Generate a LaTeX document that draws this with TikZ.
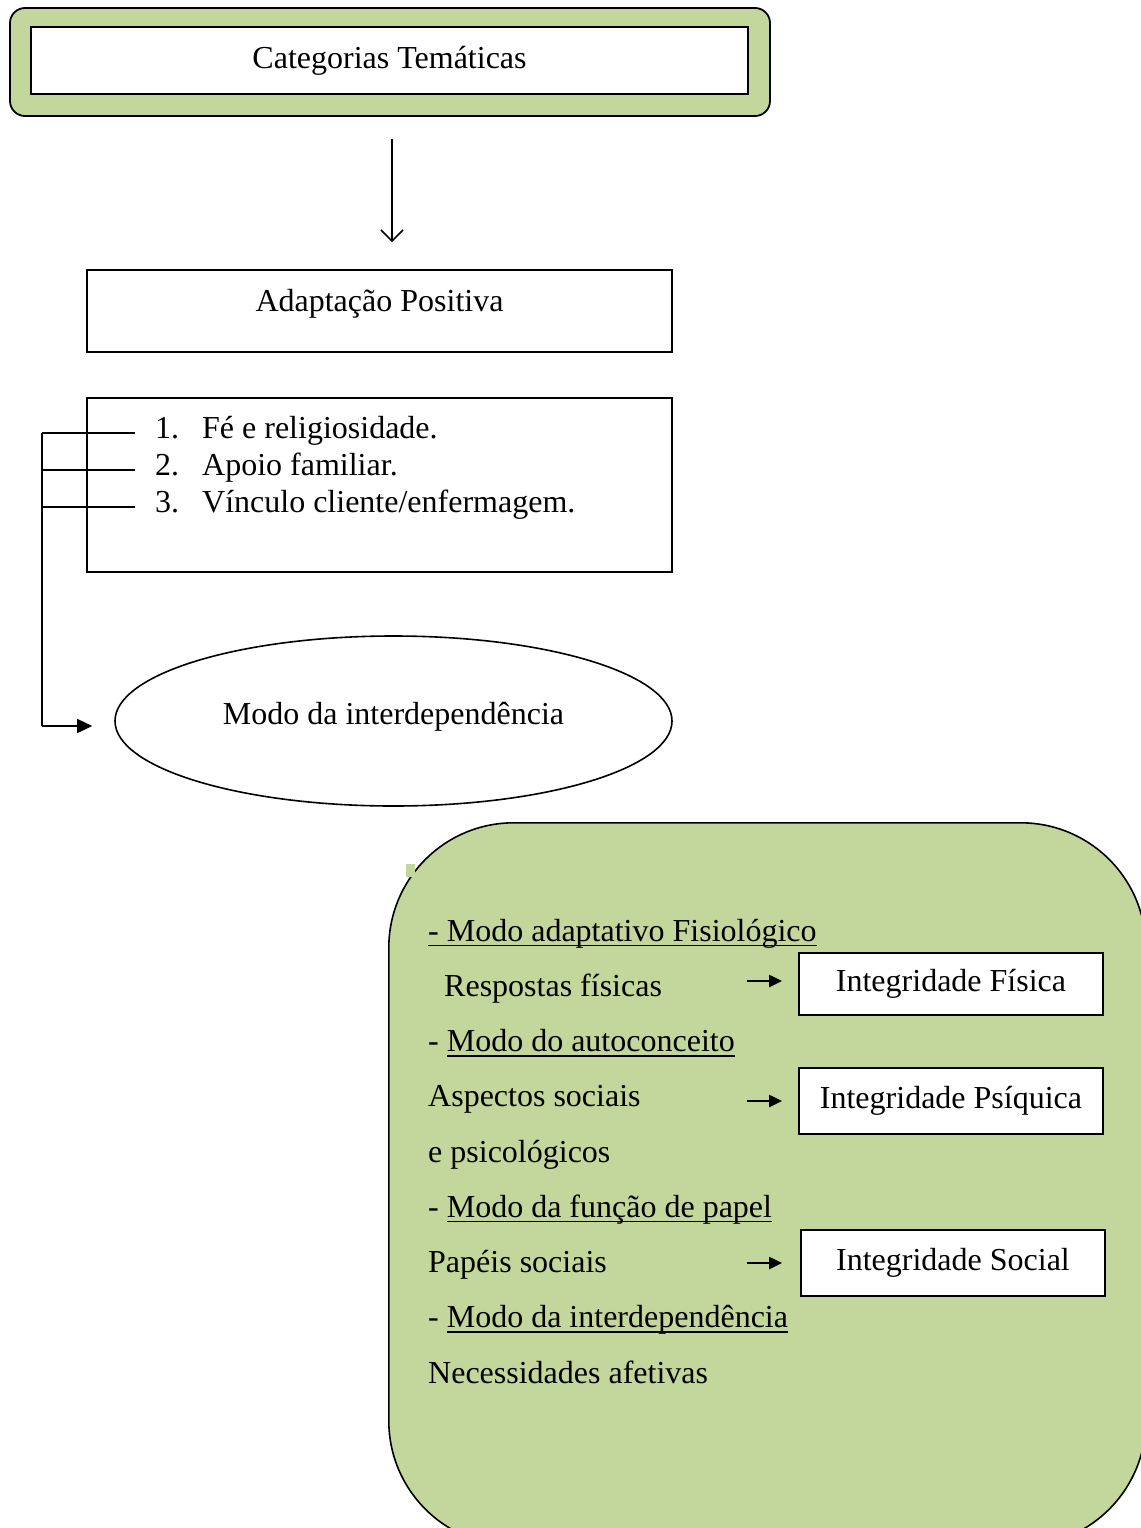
\documentclass[tikz,border=0pt]{standalone}
\usepackage{fontspec}
\setmainfont{Liberation Serif}
\usetikzlibrary{shapes.geometric,arrows.meta,positioning,calc}
\definecolor{panelgreen}{HTML}{C3D69B}
\newcommand{\undl}[1]{\setbox0\hbox{#1}\rlap{\rule[-5pt]{\wd0}{1.5pt}}\box0}

\begin{document}
\begin{tikzpicture}[
  x=1pt, y=-1pt,
  font=\fontsize{32}{38}\selectfont,
  every node/.style={inner sep=0pt},
  frame/.style={draw, line width=1.8pt, fill=panelgreen, rounded corners=15pt},
  box/.style={draw, line width=1.8pt, fill=white, text height=22pt, text depth=7pt},
  itm/.style={anchor=base west},
  ln/.style={anchor=base west},
  link/.style={line width=1.6pt},
  smallarr/.style={line width=2.2pt, -{Triangle[length=13pt, width=12pt]}},
]

\def\rowsep{55.25}
\def\rowtop{941}
\def\txtx{428}

\useasboundingbox (0,0) rectangle (1140,1528);

% --- Categorias ---
\node[frame, minimum width=760, minimum height=108] (frame) at (390,62) {};
\node[box, minimum width=717, minimum height=67] (cat) at (389.5,60.5) {Categorias Temáticas};

% --- Adaptacao ---
\node[box, minimum width=585, text height=41pt, text depth=41pt] (adapt) at (379.5,311) {Adaptação Positiva};
\draw[link, -{Straight Barb[length=11pt, width=22pt]}, shorten >=27pt]
  ([xshift=2pt, yshift=-22pt]frame.south) -- ([xshift=2pt]frame.south |- adapt.north);

% --- Lista ---
\node[draw, line width=1.8pt, minimum width=585, minimum height=174] (lst) at (379.5,485) {};
\node[itm] (i1) at (155,438) {\makebox[47pt][l]{1.}Fé e religiosidade.};
\node[itm] (i2) at (155,475) {\makebox[47pt][l]{2.}Apoio familiar.};
\node[itm] (i3) at (155,512) {\makebox[47pt][l]{3.}Vínculo cliente/enfermagem.};

% --- Modo da interdependencia ---
\node[draw, ellipse, line width=1.6pt, minimum width=557, minimum height=170, text depth=15pt] (modo) at (393.5,721) {Modo da interdependência};

\coordinate (r1) at (42,433);
\coordinate (r2) at (42,470);
\coordinate (r3) at (42,507);
\coordinate (rb) at (42,726);
\foreach \i in {1,2,3}
  \draw[link] (r\i) -- ([xshift=-20pt]r\i -| i\i.west);
\draw[link] (r1) -- (rb);
\draw[link, -{Triangle[length=15pt, width=14pt]}] (rb) -- ([xshift=-22pt]rb -| modo.west);

% --- Painel dos modos ---
\node[draw, line width=1.6pt, fill=panelgreen, rounded corners=125pt, minimum width=757, minimum height=723, anchor=north west] (panel) at (388,822) {};
\fill[panelgreen] (406,864) rectangle (415,877);

\node[ln] (l1) at (\txtx,\rowtop) {\undl{- Modo adaptativo Fisiológico}};
\node[ln] (l2) at (444,\rowtop+\rowsep) {Respostas físicas};
\node[ln] (l3) at (\txtx,\rowtop+2*\rowsep) {- \undl{Modo do autoconceito}};
\node[ln] (l4) at (\txtx,\rowtop+3*\rowsep) {Aspectos sociais};
\node[ln] (l5) at (\txtx,\rowtop+4*\rowsep) {e psicológicos};
\node[ln] (l6) at (\txtx,\rowtop+5*\rowsep) {- \undl{Modo da função de papel}};
\node[ln] (l7) at (\txtx,\rowtop+6*\rowsep) {Papéis sociais};
\node[ln] (l8) at (\txtx,\rowtop+7*\rowsep) {- \undl{Modo da interdependência}};
\node[ln] (l9) at (\txtx,\rowtop+8*\rowsep) {Necessidades afetivas};

\node[box, minimum width=304, minimum height=62] (fis) at (951,984) {Integridade Física};
\node[box, minimum width=304, minimum height=66] (psi) at (951,1101) {Integridade Psíquica};
\node[box, minimum width=304, minimum height=66] (soc) at (953,1263) {Integridade Social};

\draw[smallarr] ([xshift=-51pt, yshift=3pt]fis.west) -- ([xshift=-16pt, yshift=3pt]fis.west);
\draw[smallarr] ([xshift=-51pt]psi.west) -- ([xshift=-16pt]psi.west);
\draw[smallarr] ([xshift=-53pt]soc.west) -- ([xshift=-18pt]soc.west);

\end{tikzpicture}
\end{document}
